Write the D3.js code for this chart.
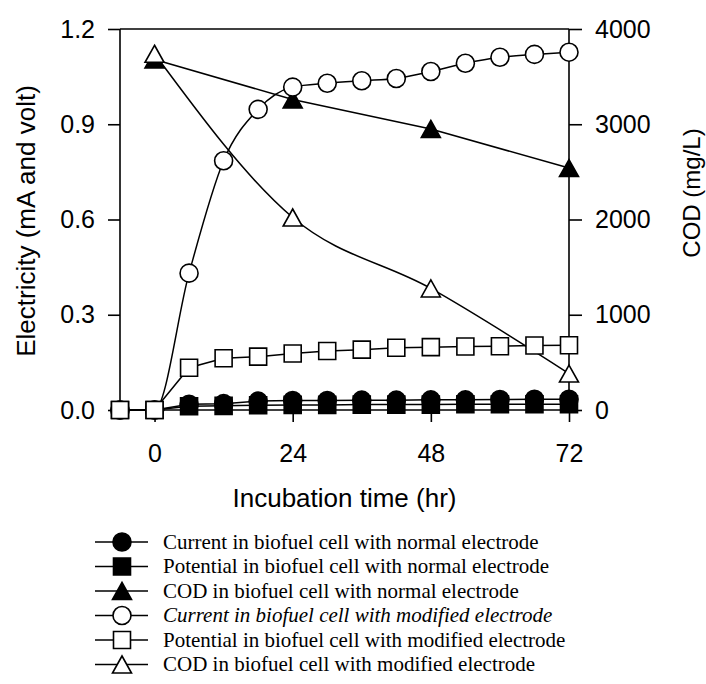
<!DOCTYPE html>
<html>
<head>
<meta charset="utf-8">
<script src="https://cdn.jsdelivr.net/npm/d3@7"></script>
<style>
  html, body { margin: 0; padding: 0; background: #fff; }
  svg { display: block; }
</style>
</head>
<body>
<script>
// ---- data ----
const hours = [-6, 0, 6, 12, 18, 24, 30, 36, 42, 48, 54, 60, 66, 72];
const currentNormal = [0, 0, 0.018, 0.02, 0.028, 0.03, 0.03, 0.031, 0.031, 0.032, 0.032, 0.033, 0.034, 0.034];
const potentialNormal = [0, 0, 0.012, 0.013, 0.015, 0.016, 0.016, 0.017, 0.017, 0.017, 0.018, 0.018, 0.018, 0.018];
const currentModified = [0, 0, 0.431, 0.785, 0.947, 1.017, 1.029, 1.037, 1.044, 1.066, 1.092, 1.111, 1.120, 1.127];
const potentialModified = [0, 0, 0.133, 0.163, 0.168, 0.178, 0.186, 0.19, 0.196, 0.198, 0.2, 0.201, 0.203, 0.204];
const codHours = [0, 24, 48, 72];
const codNormal = [3680, 3260, 2950, 2540];
const codModified = [3740, 2021, 1276, 383];
const xTicks = [0, 24, 48, 72];
const leftTicks = [0, 0.3, 0.6, 0.9, 1.2];
const rightTicks = [0, 1000, 2000, 3000, 4000];
const legendLabels = [
  "Current in biofuel cell with normal electrode",
  "Potential in biofuel cell with normal electrode",
  "COD in biofuel cell with normal electrode",
  "Current in biofuel cell with modified electrode",
  "Potential in biofuel cell with modified electrode",
  "COD in biofuel cell with modified electrode"
];

// ---- layout ----
const W = 706, H = 684;
const L = 120, R = 569, T = 29, B = 410;
const sans = "'Liberation Sans', Arial, Helvetica, sans-serif";
const serif = "'Liberation Serif', 'Times New Roman', serif";

const svg = d3.select("body").append("svg").attr("width", W).attr("height", H);

const x = d3.scaleLinear().domain([-6, 72]).range([L, R]);
const yL = d3.scaleLinear().domain([0, 1.2]).range([B, T]);
const yR = d3.scaleLinear().domain([0, 4000]).range([B, T]);

// series definitions
const series = [
  { xs: hours, ys: currentNormal, scale: yL, shape: "circle", filled: true, curve: d3.curveLinear },
  { xs: hours, ys: potentialNormal, scale: yL, shape: "square", filled: true, curve: d3.curveLinear },
  { xs: codHours, ys: codNormal, scale: yR, shape: "triangle", filled: true, curve: d3.curveLinear },
  { xs: hours, ys: currentModified, scale: yL, shape: "circle", filled: false, curve: d3.curveMonotoneX },
  { xs: hours, ys: potentialModified, scale: yL, shape: "square", filled: false, curve: d3.curveLinear },
  { xs: codHours, ys: codModified, scale: yR, shape: "triangle", filled: false, curve: d3.curveMonotoneX }
];

function markerPath(shape) {
  if (shape === "circle") {
    const r = 9;
    return `M${-r},0A${r},${r} 0 1,0 ${r},0A${r},${r} 0 1,0 ${-r},0Z`;
  }
  if (shape === "square") {
    const h = 8.5;
    return `M${-h},${-h}H${h}V${h}H${-h}Z`;
  }
  const w = 19, h = 17;
  return `M0,${-h / 2}L${w / 2},${h / 2}L${-w / 2},${h / 2}Z`;
}

// ---- frame ----
const frame = svg.append("g").attr("stroke", "#000").attr("stroke-width", 1.6).attr("fill", "none");
frame.append("line").attr("x1", L).attr("x2", R).attr("y1", T).attr("y2", T);
frame.append("line").attr("x1", L).attr("x2", L).attr("y1", T).attr("y2", B);
frame.append("line").attr("x1", R).attr("x2", R).attr("y1", T).attr("y2", B);
frame.append("line").attr("x1", L).attr("x2", R).attr("y1", B).attr("y2", B);

// ---- axes ----
function styleAxis(g) {
  g.select(".domain").remove();
  g.selectAll(".tick line").attr("stroke", "#000").attr("stroke-width", 1.6);
  g.selectAll(".tick text").attr("fill", "#000").style("font-family", sans).style("font-size", "25px");
}
svg.append("g").attr("transform", `translate(${L},0)`)
  .call(d3.axisLeft(yL).tickValues(leftTicks).tickFormat(d3.format(".1f")).tickSize(12).tickPadding(13))
  .call(styleAxis);
svg.append("g").attr("transform", `translate(${R},0)`)
  .call(d3.axisRight(yR).tickValues(rightTicks).tickFormat(d3.format("d")).tickSize(13).tickPadding(13))
  .call(styleAxis);
svg.append("g").attr("transform", `translate(0,${B})`)
  .call(d3.axisBottom(x).tickValues(xTicks).tickFormat(d3.format("d")).tickSize(12).tickPadding(22))
  .call(styleAxis);

// axis titles
svg.append("text").attr("x", (L + R) / 2).attr("y", 507).attr("text-anchor", "middle")
  .style("font-family", sans).style("font-size", "26px").text("Incubation time (hr)");
svg.append("text").attr("transform", `translate(35,221) rotate(-90)`).attr("text-anchor", "middle")
  .style("font-family", sans).style("font-size", "26px").text("Electricity (mA and volt)");
svg.append("text").attr("transform", `translate(700,193) rotate(-90)`).attr("text-anchor", "middle")
  .style("font-family", sans).style("font-size", "24px").text("COD (mg/L)");

// ---- lines ----
const linesG = svg.append("g");
series.forEach(s => {
  const pts = s.xs.map((h, i) => [x(h), s.scale(s.ys[i])]);
  linesG.append("path")
    .attr("d", d3.line().curve(s.curve)(pts))
    .attr("fill", "none").attr("stroke", "#000").attr("stroke-width", 1.5);
});

// ---- markers ----
const markG = svg.append("g");
series.forEach(s => {
  markG.append("g").selectAll("path")
    .data(s.xs.map((h, i) => [h, s.ys[i]]))
    .join("path")
    .attr("transform", d => `translate(${x(d[0])},${s.scale(d[1])})`)
    .attr("d", markerPath(s.shape))
    .attr("fill", s.filled ? "#000" : "#fff")
    .attr("stroke", "#000").attr("stroke-width", 1.6);
});

// ---- legend ----
const legend = svg.append("g");
const legY0 = 542, legDY = 24.5;
series.forEach((s, i) => {
  const yy = legY0 + i * legDY;
  const g = legend.append("g");
  g.append("line").attr("x1", 95).attr("x2", 148).attr("y1", yy).attr("y2", yy)
    .attr("stroke", "#000").attr("stroke-width", 1.5);
  g.append("path").attr("transform", `translate(122,${yy})`).attr("d", markerPath(s.shape))
    .attr("fill", s.filled ? "#000" : "#fff").attr("stroke", "#000").attr("stroke-width", 1.6);
  g.append("text").attr("x", 163).attr("y", yy).attr("dy", "0.33em")
    .style("font-family", serif).style("font-size", "21px")
    .style("font-style", i === 3 ? "italic" : "normal")
    .text(legendLabels[i]);
});
</script>
</body>
</html>
